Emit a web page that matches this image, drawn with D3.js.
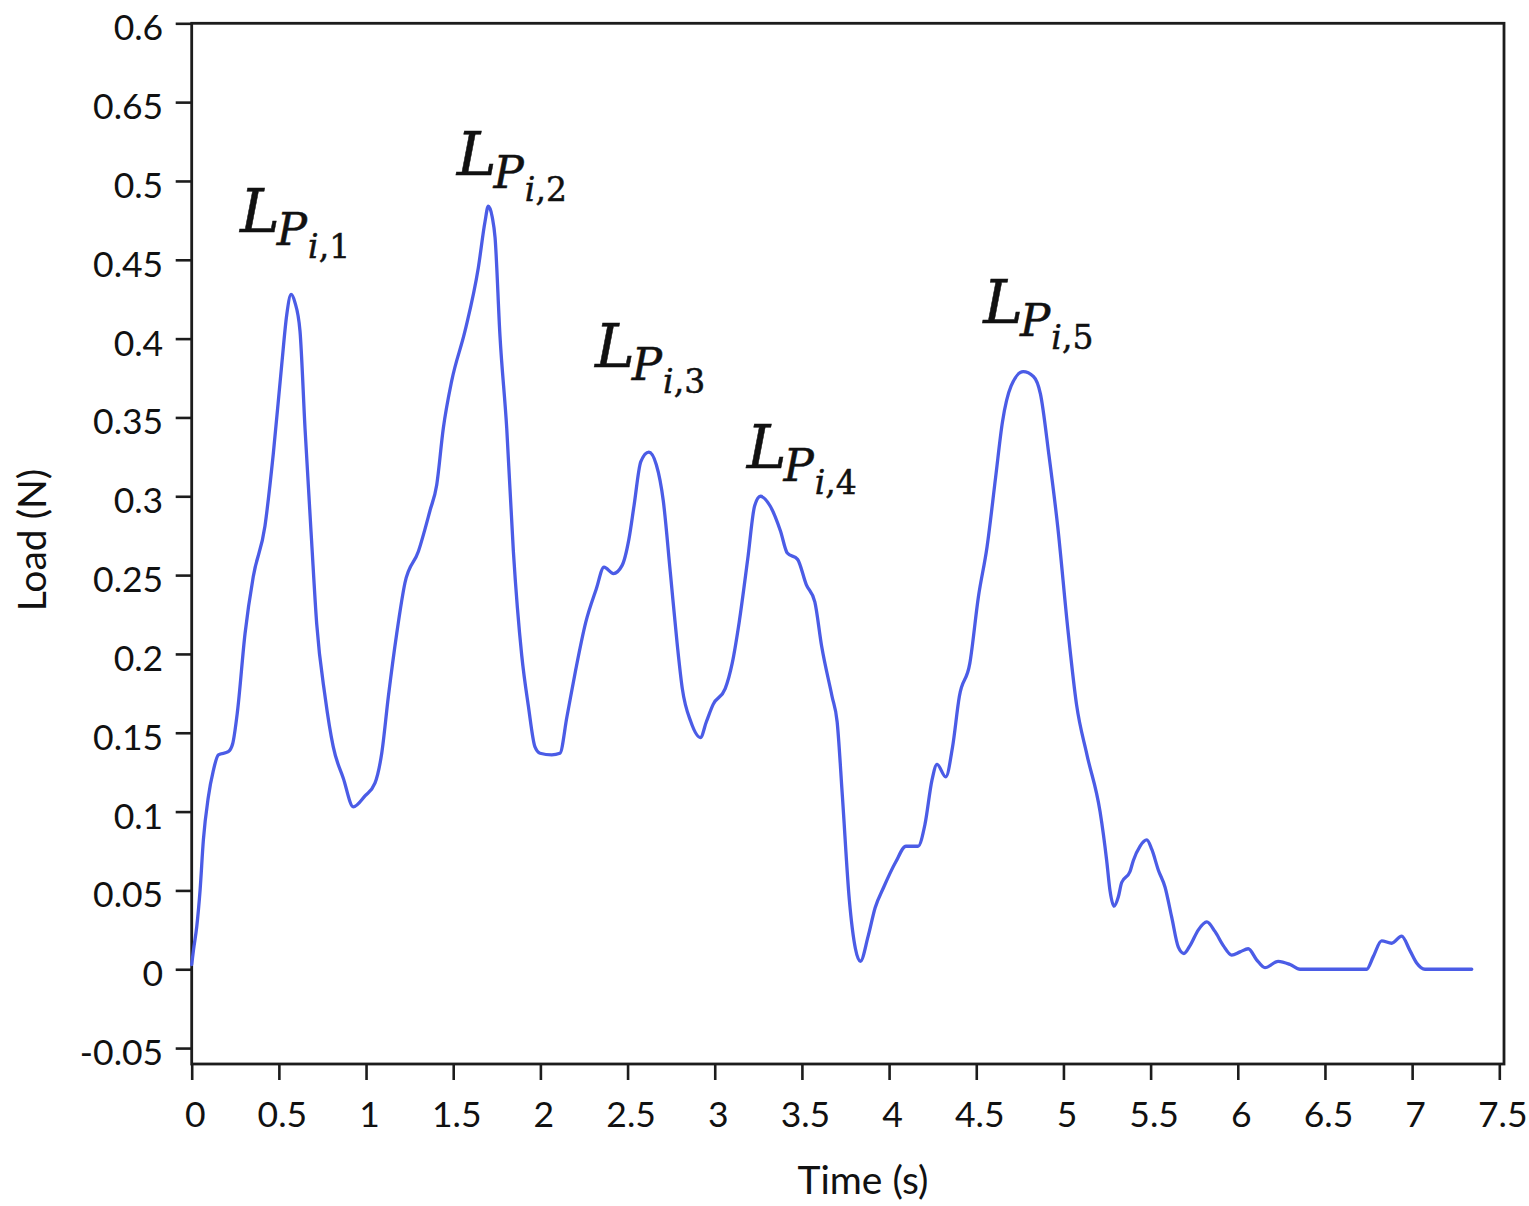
<!DOCTYPE html>
<html>
<head>
<meta charset="utf-8">
<script src="https://cdn.jsdelivr.net/npm/d3@7"></script>
<style>
  html, body { margin: 0; padding: 0; background: #fff; }
  svg { display: block; }
</style>
</head>
<body>
<div id="chart"></div>
<script>
// ---------------- data ----------------
const timeS = [
  0.000, 0.010, 0.029, 0.048, 0.067, 0.095, 0.124, 0.153, 0.210, 0.235, 0.262, 0.306, 0.353, 0.420, 0.468,
  0.516, 0.545, 0.570, 0.592, 0.621, 0.650, 0.688, 0.717, 0.765, 0.812, 0.870, 0.927, 0.994, 1.051, 1.090,
  1.128, 1.176, 1.223, 1.300, 1.367, 1.405, 1.443, 1.491, 1.568, 1.644, 1.682, 1.701, 1.724, 1.740, 1.768,
  1.807, 1.845, 1.893, 1.931, 1.969, 1.998, 2.065, 2.112, 2.152, 2.201, 2.260, 2.320, 2.365, 2.419, 2.468,
  2.508, 2.537, 2.576, 2.622, 2.665, 2.705, 2.745, 2.784, 2.814, 2.863, 2.918, 2.952, 2.991, 3.060, 3.100,
  3.140, 3.189, 3.229, 3.262, 3.317, 3.377, 3.416, 3.475, 3.525, 3.574, 3.613, 3.673, 3.702, 3.732, 3.772,
  3.807, 3.835, 3.880, 3.920, 3.969, 4.038, 4.097, 4.166, 4.206, 4.246, 4.275, 4.325, 4.364, 4.403, 4.463,
  4.512, 4.562, 4.611, 4.650, 4.700, 4.769, 4.828, 4.868, 4.917, 4.967, 5.026, 5.075, 5.135, 5.210, 5.248,
  5.267, 5.290, 5.315, 5.334, 5.382, 5.401, 5.439, 5.478, 5.507, 5.544, 5.583, 5.621, 5.659, 5.691, 5.726,
  5.774, 5.822, 5.869, 5.917, 5.965, 6.013, 6.060, 6.108, 6.156, 6.232, 6.300, 6.357, 6.739, 6.777, 6.825,
  6.883, 6.940, 6.987, 7.026, 7.074, 7.342
];
const loadN = [
  0.003, 0.012, 0.027, 0.050, 0.082, 0.109, 0.126, 0.136, 0.138, 0.143, 0.163, 0.213, 0.249, 0.281, 0.327,
  0.383, 0.415, 0.428, 0.423, 0.405, 0.343, 0.271, 0.219, 0.173, 0.141, 0.121, 0.103, 0.110, 0.118, 0.137,
  0.173, 0.213, 0.245, 0.265, 0.291, 0.307, 0.343, 0.373, 0.405, 0.445, 0.474, 0.484, 0.477, 0.464, 0.402,
  0.343, 0.265, 0.199, 0.167, 0.141, 0.137, 0.136, 0.137, 0.160, 0.189, 0.220, 0.241, 0.255, 0.251, 0.256,
  0.273, 0.294, 0.322, 0.328, 0.320, 0.297, 0.252, 0.207, 0.178, 0.157, 0.147, 0.157, 0.168, 0.178, 0.194,
  0.220, 0.260, 0.294, 0.300, 0.294, 0.278, 0.264, 0.260, 0.244, 0.233, 0.205, 0.173, 0.157, 0.110, 0.044,
  0.013, 0.005, 0.021, 0.039, 0.052, 0.068, 0.078, 0.078, 0.092, 0.120, 0.130, 0.122, 0.141, 0.173, 0.194,
  0.236, 0.268, 0.312, 0.347, 0.370, 0.379, 0.376, 0.365, 0.326, 0.281, 0.215, 0.168, 0.136, 0.100, 0.069,
  0.050, 0.040, 0.046, 0.055, 0.062, 0.069, 0.078, 0.082, 0.076, 0.063, 0.052, 0.033, 0.014, 0.010, 0.015,
  0.025, 0.030, 0.024, 0.015, 0.009, 0.011, 0.013, 0.006, 0.001, 0.005, 0.003, 0.000, 0.000, 0.008, 0.018,
  0.0165, 0.021, 0.012, 0.004, 0.000, 0.000
];

const xTickValues = [0, 0.5, 1, 1.5, 2, 2.5, 3, 3.5, 4, 4.5, 5, 5.5, 6, 6.5, 7, 7.5];
const xTickLabels = ["0", "0.5", "1", "1.5", "2", "2.5", "3", "3.5", "4", "4.5", "5", "5.5", "6", "6.5", "7", "7.5"];
const yTickValues = [0.6, 0.55, 0.5, 0.45, 0.4, 0.35, 0.3, 0.25, 0.2, 0.15, 0.1, 0.05, 0, -0.05];
const yTickLabels = ["0.6", "0.65", "0.5", "0.45", "0.4", "0.35", "0.3", "0.25", "0.2", "0.15", "0.1", "0.05", "0", "-0.05"];

// peak annotations (anchored in data space)
const peakIndex = ["1", "2", "3", "4", "5"];
const peakLabelT = [0.277, 1.52, 2.313, 3.183, 4.54];
const peakLabelV = [0.4677, 0.5038, 0.3822, 0.3178, 0.410];

const xTitle = "Time (s)";
const yTitle = "Load (N)";

// ---------------- layout ----------------
const W = 1529, H = 1206;
const padL = 191.7, padT = 23.3, padB = 1064, padR = 1504;

const svg = d3.select("#chart").append("svg")
  .attr("width", W).attr("height", H)
  .style("background", "#fff");

const x = d3.scaleLinear().domain([0, 7.5]).range([padL, 1499.3]);
const y = d3.scaleLinear().domain([-0.0601, 0.6]).range([padB, padT]);

const axisColor = "#1c1c1c";
const tickFont = "Lato, 'Open Sans', sans-serif";

// Y axis
const gy = svg.append("g").attr("transform", `translate(${padL},0)`)
  .call(d3.axisLeft(y).tickValues(yTickValues)
    .tickFormat((d, i) => yTickLabels[i]).tickSize(16).tickSizeOuter(0));
gy.select(".domain").remove();
gy.selectAll(".tick line").attr("stroke", axisColor).attr("stroke-width", 2.6);
gy.selectAll(".tick text")
  .attr("x", -28.5).attr("dy", "0.38em").attr("y", 3)
  .attr("fill", "#111").style("font-family", tickFont).style("font-size", "35.5px");

// X axis
const gx = svg.append("g").attr("transform", `translate(0,${padB})`)
  .call(d3.axisBottom(x).tickValues(xTickValues)
    .tickFormat((d, i) => xTickLabels[i]).tickSize(16).tickSizeOuter(0));
gx.select(".domain").remove();
gx.selectAll(".tick line").attr("stroke", axisColor).attr("stroke-width", 2.6);
gx.selectAll(".tick text")
  .attr("y", 62.5).attr("dy", 0).attr("dx", 3)
  .attr("fill", "#111").style("font-family", tickFont).style("font-size", "35.5px");

// Frame
svg.append("rect")
  .attr("x", padL).attr("y", padT)
  .attr("width", padR - padL).attr("height", padB - padT)
  .attr("fill", "none").attr("stroke", axisColor).attr("stroke-width", 2.8);

// Curve
const pts = timeS.map((t, i) => [t, loadN[i]]);
const line = d3.line()
  .x(d => x(d[0])).y(d => y(d[1]))
  .curve(d3.curveMonotoneX);
svg.append("path")
  .datum(pts)
  .attr("d", line)
  .attr("fill", "none")
  .attr("stroke", "#4b5ce6")
  .attr("stroke-width", 3.3)
  .attr("stroke-linejoin", "round")
  .attr("stroke-linecap", "round");

// Peak labels  L_{P_{i,k}}
const labelFont = "'DejaVu Serif', 'Liberation Serif', serif";
peakIndex.forEach((k, i) => {
  const t = svg.append("text")
    .attr("x", x(peakLabelT[i])).attr("y", y(peakLabelV[i]))
    .attr("fill", "#111").attr("stroke", "#111").attr("stroke-width", 0.5)
    .style("font-family", labelFont).style("font-style", "italic");
  t.append("tspan").style("font-size", "60px").text("L");
  t.append("tspan").style("font-size", "45px").attr("dx", -3).attr("dy", 13).text("P");
  t.append("tspan").style("font-size", "33px").attr("dx", 1).attr("dy", 13).text("i");
  t.append("tspan").style("font-size", "33px").style("font-style", "normal").text("," + k);
});

// Axis titles
svg.append("text")
  .attr("x", 863).attr("y", 1194)
  .attr("text-anchor", "middle")
  .attr("fill", "#111").style("font-family", tickFont).style("font-size", "39px")
  .text(xTitle);

svg.append("text")
  .attr("transform", "translate(46,540) rotate(-90)")
  .attr("text-anchor", "middle")
  .attr("fill", "#111").style("font-family", tickFont).style("font-size", "39px")
  .text(yTitle);
</script>
</body>
</html>
